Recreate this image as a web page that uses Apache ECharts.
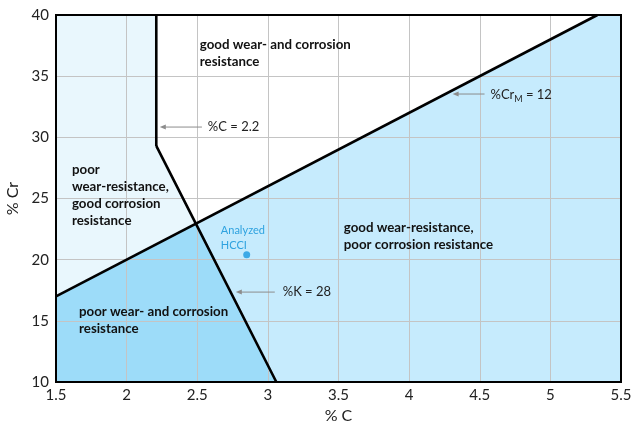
<!DOCTYPE html>
<html><head><meta charset="utf-8">
<script src="https://cdn.jsdelivr.net/npm/echarts@6/dist/echarts.min.js"></script>
<style>html,body{margin:0;padding:0;background:#fff}#c{width:638px;height:425px}</style>
</head><body><div id="c"></div>
<script>
// Axis setup
const xMin = 1.5, xMax = 5.5, xStep = 0.5;
const yMin = 10, yMax = 40, yStep = 5;

// Boundary lines (% C, % Cr)
const crMLine = [[1.5, 17], [5.333, 40]];              // %CrM = 12
const cLine = [[2.21, 40], [2.21, 29.3]];              // %C = 2.2
const kLine = [[2.21, 29.3], [2.49, 22.94], [3.06, 10]]; // %K = 28

// Regions (polygons)
const regionLeft = [[1.5, 17], [1.5, 40], [2.21, 40], [2.21, 29.3], [2.49, 22.94]];
const regionBottom = [[1.5, 10], [1.5, 17], [2.49, 22.94], [3.06, 10]];
const regionRight = [[2.49, 22.94], [5.333, 40], [5.5, 40], [5.5, 10], [3.06, 10]];

// Analyzed point
const hcci = [[2.85, 20.4]];

// Annotation arrows [from, to]
const arrows = [
  [[2.533, 30.84], [2.235, 30.84]],
  [[3.049, 17.35], [2.773, 17.35]],
  [[4.534, 33.54], [4.308, 33.54]]
];

const chart = echarts.init(document.getElementById('c'), null, {renderer: 'canvas'});

function polySeries(pts, color) {
  return {
    type: 'custom', silent: true, z: 1,
    data: [0],
    renderItem: function (params, api) {
      return {type: 'polygon', shape: {points: pts.map(p => api.coord(p))}, style: {fill: color}};
    }
  };
}
function lineSeries(pts) {
  return {type: 'line', data: pts, symbol: 'none', showSymbol: false, silent: true, z: 5,
    lineStyle: {color: '#000', width: 2.6}};
}
const arrowSeries = {
  type: 'custom', silent: true, z: 5, data: arrows.map((a, i) => i),
  renderItem: function (params, api) {
    const a = arrows[params.dataIndex];
    const p0 = api.coord(a[0]), p1 = api.coord(a[1]);
    const col = '#8c8c8c';
    return {type: 'group', children: [
      {type: 'line', shape: {x1: p0[0], y1: p0[1], x2: p1[0] + 3, y2: p1[1]}, style: {stroke: col, lineWidth: 1}},
      {type: 'polygon', shape: {points: [[p1[0], p1[1]], [p1[0] + 6, p1[1] - 2.5], [p1[0] + 6, p1[1] + 2.5]]}, style: {fill: col}}
    ]};
  }
};
const labels = [
  {p: [2.518, 38.24], t: 'good wear- and corrosion\nresistance'},
  {p: [1.613, 28.02], t: 'poor\nwear-resistance,\ngood corrosion\nresistance'},
  {p: [1.663, 16.41], t: 'poor wear- and corrosion\nresistance'},
  {p: [3.537, 23.28], t: 'good wear-resistance,\npoor corrosion resistance'},
];
const textFont = 'Lato, "Open Sans", sans-serif';
const textSeries = {
  type: 'custom', silent: true, z: 10, data: labels.map((d, i) => i),
  renderItem: function (params, api) {
    const d = labels[params.dataIndex];
    const c = api.coord(d.p);
    return {type: 'text', x: c[0], y: c[1], style: {
      text: d.t, fill: '#111', font: 'bold 13.3px ' + textFont, lineHeight: 17,
      textAlign: 'left', textVerticalAlign: 'top'}};
  }
};
const annSeries = {
  type: 'custom', silent: true, z: 10, data: [0],
  renderItem: function (params, api) {
    const a = api.coord([2.575, 30.84]);
    const b = api.coord([3.105, 17.35]);
    const c = api.coord([4.576, 33.54]);
    const h = api.coord([2.667, 22.94]);
    const st = {fill: '#222', font: '13px ' + textFont, textAlign: 'left', textVerticalAlign: 'middle'};
    return {type: 'group', children: [
      {type: 'text', x: a[0], y: a[1], style: Object.assign({text: '%C = 2.2'}, st)},
      {type: 'text', x: b[0], y: b[1], style: Object.assign({text: '%K = 28'}, st)},
      {type: 'text', x: c[0], y: c[1] + 2, style: Object.assign({}, st, {
        text: '{a|%Cr}{s|M}{a| = 12}',
        rich: {a: {fill: '#222', font: '13px ' + textFont, lineHeight: 16, verticalAlign: 'top'},
               s: {fill: '#222', font: '9px ' + textFont, lineHeight: 8, verticalAlign: 'bottom'}}})},
      {type: 'text', x: h[0], y: h[1], style: {text: 'Analyzed\nHCCI', fill: '#2ea2df',
        font: '11px ' + textFont, lineHeight: 14.5, textAlign: 'left', textVerticalAlign: 'top'}}
    ]};
  }
};

chart.setOption({
  animation: false,
  backgroundColor: '#fff',
  grid: {left: 56, right: 17, top: 15, bottom: 43, outerBoundsMode: 'none', containLabel: false,
    show: true, borderColor: '#000', borderWidth: 2, backgroundColor: 'transparent', z: 20},
  xAxis: {type: 'value', min: xMin, max: xMax, interval: xStep, name: '% C', nameLocation: 'middle', nameGap: 25,
    nameTextStyle: {fontSize: 16, color: '#222', fontFamily: textFont},
    axisLine: {show: false}, axisTick: {show: false},
    axisLabel: {fontSize: 15, color: '#222', margin: 6, fontFamily: textFont},
    splitLine: {show: true, lineStyle: {color: '#c4c4c4', width: 1}}, z: 3},
  yAxis: {type: 'value', min: yMin, max: yMax, interval: yStep, name: '% Cr', nameLocation: 'middle', nameGap: 27,
    nameTextStyle: {fontSize: 16, color: '#222', fontFamily: textFont},
    axisLine: {show: false}, axisTick: {show: false},
    axisLabel: {fontSize: 15, color: '#222', margin: 7, fontFamily: textFont},
    splitLine: {show: true, lineStyle: {color: '#c4c4c4', width: 1}}, z: 3},
  series: [
    polySeries(regionLeft, '#e9f7fd'),
    polySeries(regionBottom, '#9ddcf9'),
    polySeries(regionRight, '#c6ebfd'),
    lineSeries(crMLine), lineSeries(cLine), lineSeries(kLine),
    arrowSeries,
    {type: 'scatter', data: hcci, symbolSize: 7, itemStyle: {color: '#1a98e0'}, silent: true, z: 6},
    textSeries, annSeries
  ]
});
</script></body></html>
